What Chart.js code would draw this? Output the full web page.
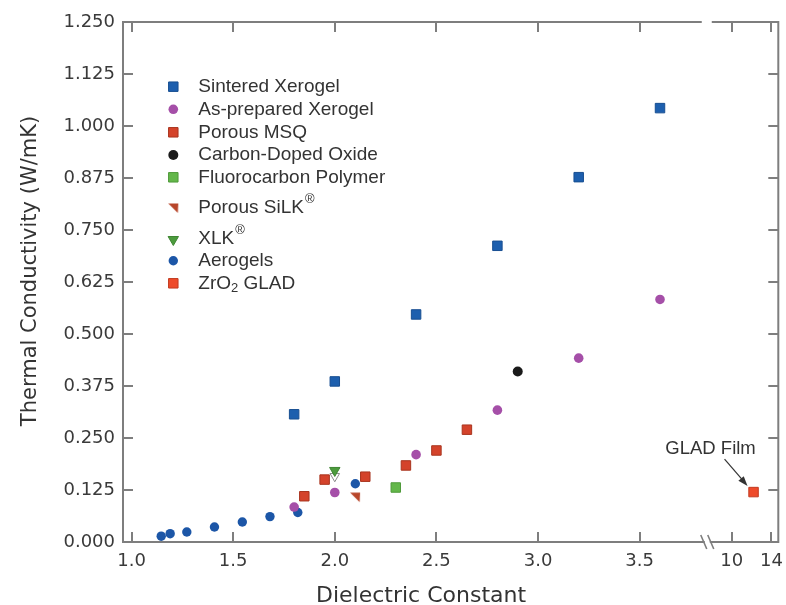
<!DOCTYPE html>
<html>
<head>
<meta charset="utf-8">
<script src="https://cdn.jsdelivr.net/npm/chart.js@4.4.1/dist/chart.umd.min.js"></script>
<style>
  html, body { margin: 0; padding: 0; background: #fff; }
</style>
</head>
<body>
<canvas id="myChart" width="786" height="605"></canvas>
<script>
// data
var sinteredX = [1.8, 2.0, 2.4, 2.8, 3.2, 3.6];
var sinteredY = [0.307, 0.386, 0.547, 0.712, 0.877, 1.043];
var asPrepX = [1.8, 2.0, 2.4, 2.8, 3.2, 3.6];
var asPrepY = [0.084, 0.119, 0.210, 0.317, 0.442, 0.583];
var msqX = [1.85, 1.95, 2.15, 2.35, 2.5, 2.65];
var msqY = [0.110, 0.150, 0.157, 0.184, 0.220, 0.270];
var cdoX = [2.9];
var cdoY = [0.410];
var fluoroX = [2.3];
var fluoroY = [0.131];
var silkX = [2.1];
var silkY = [0.108];
var xlkX = [2.0];
var xlkY = [0.172];
var xlkOpenX = [2.0];
var xlkOpenY = [0.158];
var aeroX = [1.146, 1.19, 1.272, 1.408, 1.545, 1.681, 1.818, 2.101];
var aeroY = [0.014, 0.020, 0.024, 0.036, 0.048, 0.061, 0.071, 0.140];
var gladX = [12.2];
var gladY = [0.120];

var xTickValues = [1.0, 1.5, 2.0, 2.5, 3.0, 3.5, 10, 14];
var xTickLabels = ['1.0', '1.5', '2.0', '2.5', '3.0', '3.5', '10', '14'];
var yTickValues = [0, 0.125, 0.25, 0.375, 0.5, 0.625, 0.75, 0.875, 1.0, 1.125, 1.25];
var yTickLabels = ['0.000', '0.125', '0.250', '0.375', '0.500', '0.625', '0.750', '0.875', '1.000', '1.125', '1.250'];

// broken x axis: 10..14 squeezed after the break
var BREAK_AT = 3.83;
var HIGH_START = 3.953;
var HIGH_SCALE = 0.04875;
function toAxis(x) {
  return x < 5 ? x : HIGH_START + (x - 10) * HIGH_SCALE;
}
function pts(xs, ys) {
  return xs.map(function (x, i) { return { x: toAxis(x), y: ys[i] }; });
}

// wedge marker for Porous SiLK
var wedge = document.createElement('canvas');
wedge.width = 12; wedge.height = 12;
var wc = wedge.getContext('2d');
wc.fillStyle = '#b8462a';
wc.beginPath();
wc.moveTo(1, 1.5); wc.lineTo(11, 1.5); wc.lineTo(10.5, 11); wc.closePath();
wc.fill();

var datasets = [
  { label: 'Sintered Xerogel', data: pts(sinteredX, sinteredY), pointStyle: 'rect', pointRadius: 6.7,
    backgroundColor: '#1d5fae', borderColor: '#184f92', borderWidth: 1, legendY: 86.7 },
  { label: 'As-prepared Xerogel', data: pts(asPrepX, asPrepY), pointStyle: 'circle', pointRadius: 4.8,
    backgroundColor: '#a54fa8', borderColor: '#a54fa8', borderWidth: 0, legendY: 109.3 },
  { label: 'Porous MSQ', data: pts(msqX, msqY), pointStyle: 'rect', pointRadius: 6.7,
    backgroundColor: '#d4432b', borderColor: '#a9351f', borderWidth: 1, legendY: 132.3 },
  { label: 'Carbon-Doped Oxide', data: pts(cdoX, cdoY), pointStyle: 'circle', pointRadius: 5,
    backgroundColor: '#1a1a1a', borderColor: '#1a1a1a', borderWidth: 0, legendY: 155 },
  { label: 'Fluorocarbon Polymer', data: pts(fluoroX, fluoroY), pointStyle: 'rect', pointRadius: 6.7,
    backgroundColor: '#63b74a', borderColor: '#4f9a3b', borderWidth: 1, legendY: 177.3 },
  { label: 'Porous SiLK®', data: pts(silkX, silkY), pointStyle: wedge, pointRadius: 6,
    backgroundColor: '#b8462a', borderColor: '#b8462a', borderWidth: 0, legendY: 208 },
  { label: 'XLK®', data: pts(xlkX, xlkY), pointStyle: 'triangle', rotation: 180, pointRadius: 6,
    backgroundColor: '#4c9b3d', borderColor: '#3f8632', borderWidth: 1, legendY: 238.5 },
  { label: 'Aerogels', data: pts(aeroX, aeroY), pointStyle: 'circle', pointRadius: 4.7,
    backgroundColor: '#1c56a7', borderColor: '#1c56a7', borderWidth: 0, legendY: 260.7 },
  { label: 'ZrO₂ GLAD', data: pts(gladX, gladY), pointStyle: 'rect', pointRadius: 6.7,
    backgroundColor: '#ee4b2b', borderColor: '#c23b20', borderWidth: 1, legendY: 283.3 },
  { label: 'XLK open', data: pts(xlkOpenX, xlkOpenY), pointStyle: 'triangle', rotation: 180, pointRadius: 5.5,
    backgroundColor: '#ffffff', borderColor: '#8a8a8a', borderWidth: 1, noLegend: true }
];

function richText(ctx, text, x, y) {
  var parts = text.split(/(®|₂)/);
  parts.forEach(function (p) {
    if (!p) return;
    if (p === '®') {
      ctx.font = '13px "Liberation Sans"';
      ctx.fillText('®', x + 1, y - 8.5);
      x += ctx.measureText('®').width + 1;
    } else if (p === '₂') {
      ctx.font = '13px "Liberation Sans"';
      ctx.fillText('2', x, y + 5);
      x += ctx.measureText('2').width;
    } else {
      ctx.font = '19px "Liberation Sans"';
      ctx.fillText(p, x, y);
      x += ctx.measureText(p).width;
    }
  });
}

var decor = {
  id: 'decor',
  beforeDatasetsDraw: function (chart) {
    var ctx = chart.ctx;
    var a = chart.chartArea;
    var xs = chart.scales.x;
    var ys = chart.scales.y;
    ctx.save();
    ctx.strokeStyle = '#7e7e7e';
    ctx.lineWidth = 2;
    ctx.strokeRect(a.left, a.top, a.right - a.left, a.bottom - a.top);
    ctx.beginPath();
    xs.ticks.forEach(function (t) {
      var px = Math.round(xs.getPixelForValue(t.value));
      ctx.moveTo(px, a.bottom); ctx.lineTo(px, a.bottom - 10);
      ctx.moveTo(px, a.top); ctx.lineTo(px, a.top + 10);
    });
    ys.ticks.forEach(function (t) {
      var py = Math.round(ys.getPixelForValue(t.value));
      ctx.moveTo(a.left, py); ctx.lineTo(a.left + 10, py);
      ctx.moveTo(a.right, py); ctx.lineTo(a.right - 10, py);
    });
    ctx.stroke();

    // axis break
    var bx = xs.getPixelForValue(BREAK_AT);
    ctx.fillStyle = '#ffffff';
    ctx.fillRect(bx - 5, a.top - 2, 10, 4);
    ctx.fillRect(bx - 2, a.bottom - 2, 5, 4);
    ctx.lineWidth = 1.6;
    ctx.beginPath();
    [-3, 4].forEach(function (o) {
      ctx.moveTo(bx + o - 3, a.bottom - 7);
      ctx.lineTo(bx + o + 3, a.bottom + 7);
    });
    ctx.stroke();
    ctx.restore();
  },
  afterDraw: function (chart) {
    var ctx = chart.ctx;
    ctx.save();
    ctx.fillStyle = '#333333';
    ctx.textBaseline = 'alphabetic';

    // axis titles
    ctx.font = '22px "DejaVu Sans"';
    ctx.textAlign = 'center';
    ctx.fillText('Dielectric Constant', 421, 602);
    ctx.save();
    ctx.translate(36, 271);
    ctx.rotate(-Math.PI / 2);
    ctx.font = '21px "DejaVu Sans"';
    ctx.fillText('Thermal Conductivity (W/mK)', 0, 0);
    ctx.restore();

    // legend
    ctx.textAlign = 'left';
    ctx.textBaseline = 'middle';
    chart.data.datasets.forEach(function (ds) {
      if (ds.noLegend) return;
      ctx.fillStyle = ds.backgroundColor;
      ctx.strokeStyle = ds.borderColor;
      ctx.lineWidth = ds.borderWidth;
      Chart.helpers.drawPoint(ctx, {
        pointStyle: ds.pointStyle, rotation: ds.rotation || 0,
        radius: ds.pointRadius, borderWidth: ds.borderWidth
      }, 173.3, ds.legendY + (ds.pointStyle === 'triangle' ? 1 : 0));
      ctx.fillStyle = '#333333';
      richText(ctx, ds.label, 198.3, ds.legendY);
    });

    // GLAD film callout
    var meta = chart.getDatasetMeta(8);
    var p = meta.data[0];
    ctx.font = '18.5px "Liberation Sans"';
    ctx.textAlign = 'center';
    ctx.fillStyle = '#333333';
    ctx.fillText('GLAD Film', p.x - 43, p.y - 43);
    var sx = p.x - 29, sy = p.y - 33, ex = p.x - 6, ey = p.y - 6;
    ctx.strokeStyle = '#333333';
    ctx.lineWidth = 1.2;
    ctx.beginPath();
    ctx.moveTo(sx, sy); ctx.lineTo(ex - 4, ey - 5);
    ctx.stroke();
    var ang = Math.atan2(ey - sy, ex - sx);
    ctx.beginPath();
    ctx.moveTo(ex, ey);
    ctx.lineTo(ex - 10 * Math.cos(ang) + 3.5 * Math.sin(ang), ey - 10 * Math.sin(ang) - 3.5 * Math.cos(ang));
    ctx.lineTo(ex - 10 * Math.cos(ang) - 3.5 * Math.sin(ang), ey - 10 * Math.sin(ang) + 3.5 * Math.cos(ang));
    ctx.closePath();
    ctx.fill();
    ctx.restore();
  }
};

var ctx = document.getElementById('myChart');

new Chart(ctx, {
  type: 'scatter',
  data: { datasets: datasets },
  options: {
    responsive: false,
    animation: false,
    layout: { padding: { left: 0, right: 2, top: 22, bottom: 0 } },
    plugins: {
      legend: { display: false },
      tooltip: { enabled: false }
    },
    scales: {
      x: {
        type: 'linear',
        min: 0.958,
        max: 4.182,
        grid: { display: false, drawTicks: false },
        border: { display: false },
        ticks: {
          autoSkip: false,
          maxRotation: 0,
          padding: 9,
          color: '#3a3a3a',
          font: { family: 'DejaVu Sans', size: 18 },
          callback: function (v, i) { return xTickLabels[i]; }
        },
        afterBuildTicks: function (scale) {
          scale.ticks = xTickValues.map(function (v) { return { value: toAxis(v) }; });
        },
        afterFit: function (scale) {
          scale.height = 63;
          scale.paddingLeft = 0;
          scale.paddingRight = 0;
        }
      },
      y: {
        type: 'linear',
        min: 0,
        max: 1.25,
        grid: { display: false, drawTicks: false },
        border: { display: false },
        ticks: {
          autoSkip: false,
          padding: 8,
          color: '#3a3a3a',
          font: { family: 'DejaVu Sans', size: 18 },
          callback: function (v, i) { return yTickLabels[i]; }
        },
        afterBuildTicks: function (scale) {
          scale.ticks = yTickValues.map(function (v) { return { value: v }; });
        },
        afterFit: function (scale) {
          scale.width = 123;
          scale.paddingTop = 0;
          scale.paddingBottom = 0;
        }
      }
    }
  },
  plugins: [decor]
});
</script>
</body>
</html>
